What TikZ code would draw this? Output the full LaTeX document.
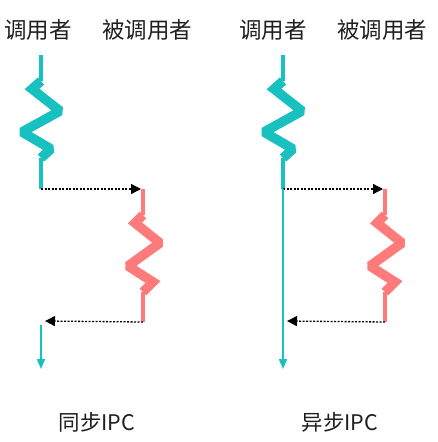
\documentclass[tikz,border=0pt]{standalone}
\usepackage{fontspec}
\setmainfont{Noto Sans CJK SC}
\usetikzlibrary{arrows.meta}
\definecolor{tealc}{HTML}{19C0C0}
\definecolor{redc}{HTML}{FF7B7B}
\begin{document}
\begin{tikzpicture}[x=1pt,y=-1pt,
  lbl/.style={font=\fontsize{22.5}{22.5}\selectfont, inner sep=0pt, text=black!88},
  captext/.style={font=\fontsize{21.5}{21.5}\selectfont, inner sep=0pt, text=black!88},
  lifeline/.style={line width=4pt},
  zig/.style={line width=9.5pt, line join=miter, miter limit=1.6},
  call/.style={dash pattern=on 2pt off 1.5pt, line width=1.3pt, -{Triangle[length=10pt,width=10pt]}, shorten >=2pt},
  flow/.style={line width=1.8pt, tealc, -{Triangle[length=10pt,width=8pt]}}]
\useasboundingbox (0,0) rectangle (437,442);

% labels
\node[lbl] (callerA) at (38,30) {调用者};
\node[lbl] (calleeA) at (147,30) {被调用者};
\node[lbl] (callerB) at (273,30) {调用者};
\node[lbl] (calleeB) at (382,30) {被调用者};
\node[captext] (capA) at (97,422) {同步IPC};
\node[captext] (capB) at (340,422) {异步IPC};

\foreach \sx/\nm in {0/A,242/B}{
\begin{scope}[xshift=\sx pt]
  % caller coordinates
  \coordinate (ct\nm) at (41,55);
  \coordinate (cz1\nm) at (41,81);
  \coordinate (cz2\nm) at (41,158);
  \coordinate (cb\nm) at (41,189);
  % callee coordinates
  \coordinate (et\nm) at (143,189);
  \coordinate (ez1\nm) at (143,215);
  \coordinate (ez2\nm) at (143,292);
  \coordinate (eb\nm) at (143,322);
  % caller activity
  \draw[tealc, lifeline] (ct\nm) -- (cz1\nm);
  \draw[tealc, lifeline] (cz2\nm) -- (cb\nm);
  \draw[tealc, zig] (cz1\nm) -- (32,89) -- (60,111) -- (22,132) -- (51,149) -- (cz2\nm);
  % callee activity
  \draw[redc, lifeline] (et\nm) -- (ez1\nm);
  \draw[redc, lifeline] (ez2\nm) -- (eb\nm);
  \draw[redc, zig] (ez1\nm) -- (135,223) -- (160,243) -- (128,266) -- (153,282) -- (ez2\nm);
\end{scope}
}

% synchronous
\coordinate (retA) at (43,321);
\coordinate (resA) at (41,325);
\coordinate (endA) at (41,369);
\draw[call] (cbA) -- (etA |- cbA);
\draw[call] (ebA) -- (retA);
\draw[flow] (resA) -- (endA);

% asynchronous
\coordinate (retB) at (285,321);
\coordinate (endB) at (283,369);
\draw[call] (cbB) -- (etB |- cbB);
\draw[call] (ebB) -- (retB);
\draw[flow] (cbB) -- (endB);
\end{tikzpicture}
\end{document}
